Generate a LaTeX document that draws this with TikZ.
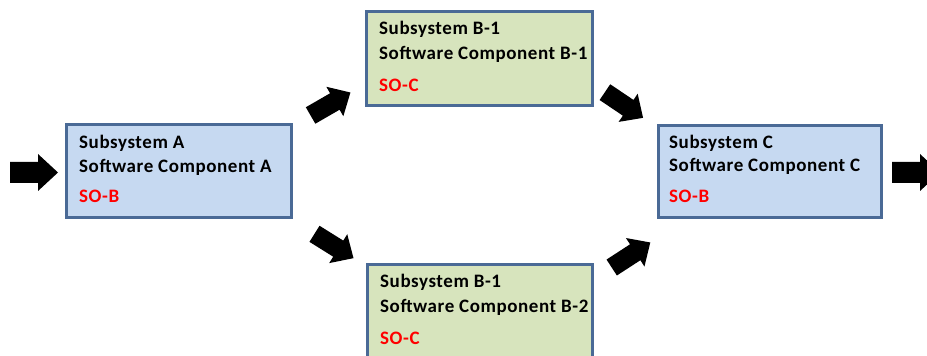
\documentclass[tikz,border=0pt]{standalone}
\usepackage{fontspec}
\setmainfont{Carlito}
\newfontfamily\boxfont[LetterSpace=3]{Carlito}
\definecolor{bluefill}{HTML}{C6D9F1}
\definecolor{greenfill}{HTML}{D7E4BD}
\definecolor{boxborder}{HTML}{4A6A96}
\definecolor{sored}{HTML}{FF0000}
\begin{document}
\begin{tikzpicture}[x=1pt,y=1pt,
  sysbox/.style={draw=boxborder, line width=3pt, rectangle, inner sep=0pt},
  bluebox/.style={sysbox, fill=bluefill},
  greenbox/.style={sysbox, fill=greenfill},
  lbl/.style={anchor=base west, inner sep=0pt, font=\boxfont\fontsize{19}{22}\selectfont\bfseries},
  solbl/.style={lbl, text=sored},
  darrow/.pic={\fill[black] (-23,-9.5) -- (5,-9.5) -- (5,-17) -- (23,0) -- (5,17) -- (5,9.5) -- (-23,9.5) -- cycle;},
  harrow/.pic={\fill[black] (-24,-10.5) -- (4,-10.5) -- (4,-18.5) -- (24,0) -- (4,18.5) -- (4,10.5) -- (-24,10.5) -- cycle;}
]
\useasboundingbox (0,0) rectangle (927,356);
\fill[white] (0,0) rectangle (927,356);
% boxes
\node[bluebox, minimum width=225pt, minimum height=93pt] (A) at (179,185) {};
\node[greenbox, minimum width=226pt, minimum height=94pt] (B1) at (479.5,297.5) {};
\node[greenbox, minimum width=225pt, minimum height=94pt] (B2) at (480,44.5) {};
\node[bluebox, minimum width=223pt, minimum height=92pt] (C) at (770,184.5) {};
% texts
\node[lbl] (A1) at (79,207) {Subsystem A};
\node[lbl] (A2) at (79,183.5) {Software Component A};
\node[solbl] (A3) at (79,153) {SO-B};
\node[lbl] (B11) at (379,321) {Subsystem B-1};
\node[lbl] (B12) at (379,296) {Software Component B-1};
\node[solbl] (B13) at (379,264) {SO-C};
\node[lbl] (B21) at (380,68) {Subsystem B-1};
\node[lbl] (B22) at (380,43) {Software Component B-2};
\node[solbl] (B23) at (380,11) {SO-C};
\node[lbl] (C1) at (669,207.5) {Subsystem C};
\node[lbl] (C2) at (669,184) {Software Component C};
\node[solbl] (C3) at (669,153) {SO-B};
% arrows
\pic at (34,183.5) {harrow};
\pic at (916,183.5) {harrow};
\pic[rotate=30] at (330.5,252) {darrow};
\pic[rotate=-34] at (624,251) {darrow};
\pic[rotate=-32] at (334,110) {darrow};
\pic[rotate=33] at (631,101) {darrow};
\end{tikzpicture}
\end{document}
